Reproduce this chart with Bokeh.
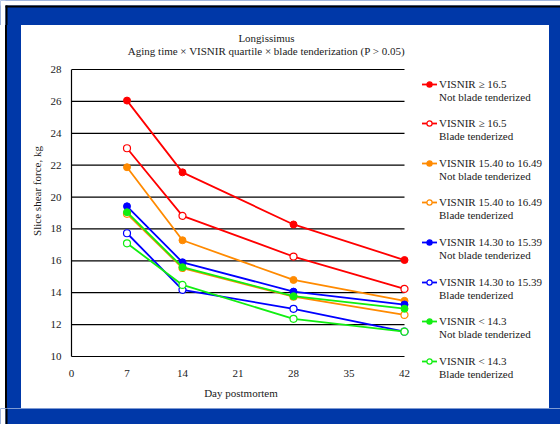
import html as _html
from bokeh.plotting import figure
from bokeh.models import FixedTicker, Label, Range1d, Div
from bokeh.layouts import column, row
from bokeh.embed import file_html
from bokeh.resources import INLINE

# ---- data ----
days = [7, 14, 28, 42]
x_ticks = [0, 7, 14, 21, 28, 35, 42]
y_ticks = [10, 12, 14, 16, 18, 20, 22, 24, 26, 28]

ge165_not = [26.05, 21.55, 18.28, 16.05]
ge165_blade = [23.06, 18.82, 16.27, 14.24]
q1540_not = [21.87, 17.29, 14.80, 13.49]
q1540_blade = [18.95, 15.55, 13.75, 12.61]
q1430_not = [19.42, 15.91, 14.07, 13.26]
q1430_blade = [17.73, 14.18, 12.99, 11.56]
lt143_not = [19.05, 15.60, 13.78, 13.00]
lt143_blade = [17.10, 14.49, 12.36, 11.56]

quartile_labels = ["VISNIR \u2265 16.5", "VISNIR 15.40 to 16.49",
                   "VISNIR 14.30 to 15.39", "VISNIR < 14.3"]
treat_labels = ["Not blade tenderized", "Blade tenderized"]
title_lines = ["Longissimus",
               "Aging time \u00d7 VISNIR quartile \u00d7 blade tenderization (P > 0.05)"]

series = [
    (ge165_not, 0, 0), (ge165_blade, 0, 1),
    (q1540_not, 1, 0), (q1540_blade, 1, 1),
    (q1430_not, 2, 0), (q1430_blade, 2, 1),
    (lt143_not, 3, 0), (lt143_blade, 3, 1),
]
colors = ["#FF0000", "#FF8A00", "#0000FF", "#11EE11"]

FONT = "'Liberation Serif', 'Times New Roman', serif"
TXT = "#1a1a1a"
BLUE = "#0038A8"

# ---- layout geometry (page pixels) ----
IN_L, IN_T, IN_R, IN_B = 21, 25, 549, 408        # white panel
PL, PB, PR42, PT28 = 71, 356, 404, 69             # plot: x=0, y=10, x=42, y=28
FR = 410                                          # right edge of plot frame
PX_DAY = (PR42 - PL) / (x_ticks[-1] - x_ticks[0])
PX_KG = (PB - PT28) / (y_ticks[-1] - y_ticks[0])
MID_H = IN_B - IN_T


def strip(w, h, boxes):
    """A plain decorative figure (border pieces), in pixel coordinates."""
    f = figure(width=w, height=h, output_backend="svg", toolbar_location=None,
               x_range=Range1d(0, w), y_range=Range1d(h, 0),
               x_axis_type=None, y_axis_type=None,
               min_border_left=0, min_border_right=0, min_border_top=0, min_border_bottom=0)
    f.outline_line_color = None
    f.grid.visible = False
    f.background_fill_color = BLUE
    f.border_fill_color = BLUE
    for (l, r, tp, b, c) in boxes:
        f.quad(left=[l], right=[r], top=[tp], bottom=[b], fill_color=c, line_color=None)
    return f


top_strip = strip(560, IN_T, [(0, 560, 0, 5, "white"), (0, 5, 0, IN_T, "white"),
                              (5, 560, 5, 7, "black"), (5, 7, 5, IN_T, "black")])
bottom_strip = strip(560, 424 - IN_B, [(0, 5, 0, 424 - IN_B, "white"),
                                       (5, 7, 0, 424 - IN_B, "black")])
left_strip = Div(text="", width=IN_L, height=MID_H, margin=0, styles={
    "background": f"linear-gradient(to right, white 0px, white 5px, black 5px, black 7px, {BLUE} 7px, {BLUE} {IN_L}px)"})

# ---- main chart (frame reaches up to the white panel top, for the title) ----
x_end = (FR - PL) / PX_DAY
y_end = y_ticks[0] + (PB - IN_T) / PX_KG
p = figure(width=FR - IN_L, height=MID_H, output_backend="svg", toolbar_location=None,
           x_range=Range1d(0, x_end), y_range=Range1d(y_ticks[0], y_end),
           min_border_left=PL - IN_L, min_border_right=0,
           min_border_top=0, min_border_bottom=IN_B - PB)
p.background_fill_color = "white"
p.border_fill_color = "white"
p.outline_line_color = None
p.grid.visible = False

for ax in (p.xaxis[0], p.yaxis[0]):
    ax.major_tick_line_color = None
    ax.minor_tick_line_color = None
    ax.major_tick_out = 0
    ax.major_tick_in = 0
    ax.axis_line_color = "black"
    ax.axis_line_width = 1.2
    ax.major_label_text_font = FONT
    ax.major_label_text_font_size = "11px"
    ax.major_label_text_color = TXT
    ax.axis_label_text_font = FONT
    ax.axis_label_text_font_size = "11px"
    ax.axis_label_text_font_style = "normal"
    ax.axis_label_text_color = TXT

p.xaxis.ticker = FixedTicker(ticks=x_ticks)
p.yaxis.ticker = FixedTicker(ticks=y_ticks)
p.xaxis.bounds = (x_ticks[0], x_ticks[-1])
p.yaxis.bounds = (y_ticks[0], y_ticks[-1])
p.xaxis.major_label_standoff = 13
p.yaxis.major_label_standoff = 10
p.xaxis.axis_label = "Day postmortem"
p.yaxis.axis_label = "Slice shear force, kg"
p.xaxis.axis_label_standoff = 7
p.yaxis.axis_label_standoff = 5

# horizontal gridlines across the tick span
p.multi_line(xs=[[x_ticks[0], x_ticks[-1]] for _ in y_ticks[1:]],
             ys=[[v, v] for v in y_ticks[1:]], line_color="black", line_width=1.2)

for vals, qi, ti in series:
    c = colors[qi]
    p.line(days, vals, line_color=c, line_width=1.8)
    if ti == 0:
        p.scatter(days, vals, marker="circle", size=7, fill_color=c, line_color=c)
    else:
        p.scatter(days, vals, marker="circle", size=7, fill_color="white",
                  line_color=c, line_width=1.2)

TX = 266 - PL
for txt, cy in zip(title_lines, (37, 50)):
    p.add_layout(Label(x=TX, y=PB - cy, x_units="screen", y_units="screen",
                       text=txt, text_align="center", text_baseline="middle",
                       text_font=FONT, text_font_size="11px", text_color=TXT))

# ---- legend panel (plus right blue border) ----
LW = 560 - FR
parts = []
for k, (vals, qi, ti) in enumerate(series):
    c = colors[qi]
    yc = 84 + k * 39.6 - IN_T
    fill = c if ti == 0 else "white"
    sw = (f'<svg width="15" height="13" style="display:block;flex:none">'
          f'<line x1="0" y1="6.5" x2="15" y2="6.5" stroke="{c}" stroke-width="1.8"/>'
          f'<circle cx="7.5" cy="6.5" r="2.6" fill="{fill}" stroke="{c}" stroke-width="1.2"/></svg>')
    parts.append(
        f'<div style="position:absolute;left:{422 - FR}px;top:{yc - 6.5:.1f}px;height:13px;'
        f'display:flex;align-items:center;white-space:nowrap">{sw}'
        f'<span style="margin-left:2px;line-height:13px">{_html.escape(quartile_labels[qi])}</span></div>')
    parts.append(
        f'<div style="position:absolute;left:{439 - FR}px;top:{yc + 13 - 6.5:.1f}px;height:13px;'
        f'line-height:13px;white-space:nowrap">{_html.escape(treat_labels[ti])}</div>')
legend_html = (f'<div style="position:relative;width:{LW}px;height:{MID_H}px;'
               f'font-family:{FONT};font-size:11px;color:{TXT};'
               f'background:linear-gradient(to right, white 0px, white {IN_R - FR}px, {BLUE} {IN_R - FR}px, {BLUE} {LW}px)">'
               + "".join(parts) + "</div>")
lg = Div(text=legend_html, width=LW, height=MID_H, margin=0)

root = column(top_strip,
              row(left_strip, p, lg, spacing=0),
              bottom_strip, spacing=0)

open("out.html", "w").write(file_html(root, INLINE))
